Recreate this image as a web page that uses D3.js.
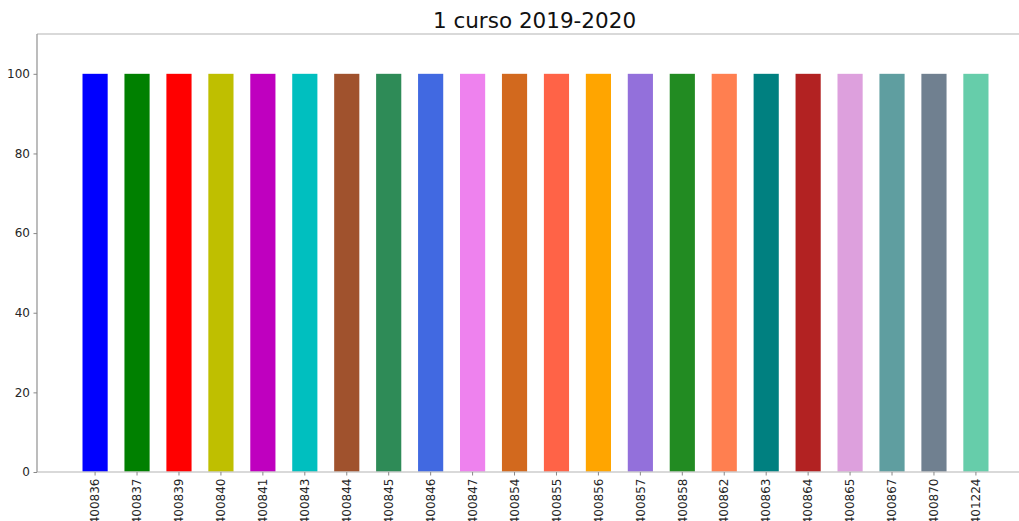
<!DOCTYPE html>
<html>
<head>
<meta charset="utf-8">
<script src="https://cdn.jsdelivr.net/npm/d3@7"></script>
<style>
  html, body { margin: 0; padding: 0; background: #fff; }
  text { font-family: "DejaVu Sans", sans-serif; }
</style>
</head>
<body>
<svg id="chart" width="1019" height="521"></svg>
<script>
const title = "1 curso 2019-2020";
const categories = ["400836","400837","400839","400840","400841","400843","400844","400845","400846","400847","400854","400855","400856","400857","400858","400862","400863","400864","400865","400867","400870","401224"];
const values = [100,100,100,100,100,100,100,100,100,100,100,100,100,100,100,100,100,100,100,100,100,100];
const colors = ["#0000ff","#008000","#ff0000","#bfbf00","#bf00bf","#00bfbf","#a0522d","#2e8b57","#4169e1","#ee82ee","#d2691e","#ff6347","#ffa500","#9370db","#228b22","#ff7f50","#008080","#b22222","#dda0dd","#5f9ea0","#708090","#66cdaa"];
const yTicks = [0,20,40,60,80,100];
const yMax = 110;

const svg = d3.select("#chart");
const mLeft = 37, mTop = 34, mBottom = 472, mRight = 1034;

const x = d3.scaleBand().domain(categories).range([mLeft, mRight]).paddingInner(0.4).paddingOuter(1.085);
const y = d3.scaleLinear().domain([0, yMax]).range([mBottom, mTop]);

// bars
svg.append("g").selectAll("rect").data(categories).join("rect")
  .attr("x", d => x(d))
  .attr("width", x.bandwidth())
  .attr("y", (d, i) => y(values[i]))
  .attr("height", (d, i) => y(0) - y(values[i]))
  .attr("fill", (d, i) => colors[i]);

// spines
svg.append("line").attr("x1", mLeft).attr("x2", 1019).attr("y1", mTop).attr("y2", mTop)
  .attr("stroke", "#cccccc").attr("stroke-width", 1.5);
svg.append("line").attr("x1", mLeft).attr("x2", 1019).attr("y1", mBottom).attr("y2", mBottom)
  .attr("stroke", "#cccccc").attr("stroke-width", 1.5);
svg.append("line").attr("x1", mLeft).attr("x2", mLeft).attr("y1", mTop).attr("y2", mBottom)
  .attr("stroke", "#999999").attr("stroke-width", 1.3);

// y axis
const yAxis = d3.axisLeft(y).tickValues(yTicks).tickSize(3.5).tickPadding(3.5).tickFormat(d3.format("d"));
const gy = svg.append("g").attr("transform", `translate(${mLeft},0)`).call(yAxis);
gy.select(".domain").remove();
gy.selectAll(".tick line").attr("stroke", "#888");
gy.selectAll(".tick text").attr("fill", "#262626").style("font-size", "12px").style("font-family", "DejaVu Sans, sans-serif");

// x axis
const xAxis = d3.axisBottom(x).tickSize(3.5).tickPadding(3.5);
const gx = svg.append("g").attr("transform", `translate(0,${mBottom})`).call(xAxis);
gx.select(".domain").remove();
gx.selectAll(".tick line").attr("stroke", "#888");
gx.selectAll(".tick text")
  .attr("fill", "#262626")
  .style("font-size", "12px").style("font-family", "DejaVu Sans, sans-serif")
  .attr("text-anchor", "end")
  .attr("transform", "rotate(-90)")
  .attr("x", -6.5).attr("y", 0).attr("dy", "0.35em");

// title
svg.append("text").attr("x", 534.5).attr("y", 28).attr("text-anchor", "middle")
  .attr("fill", "#111").style("font-size", "21.5px").text(title);
</script>
</body>
</html>
